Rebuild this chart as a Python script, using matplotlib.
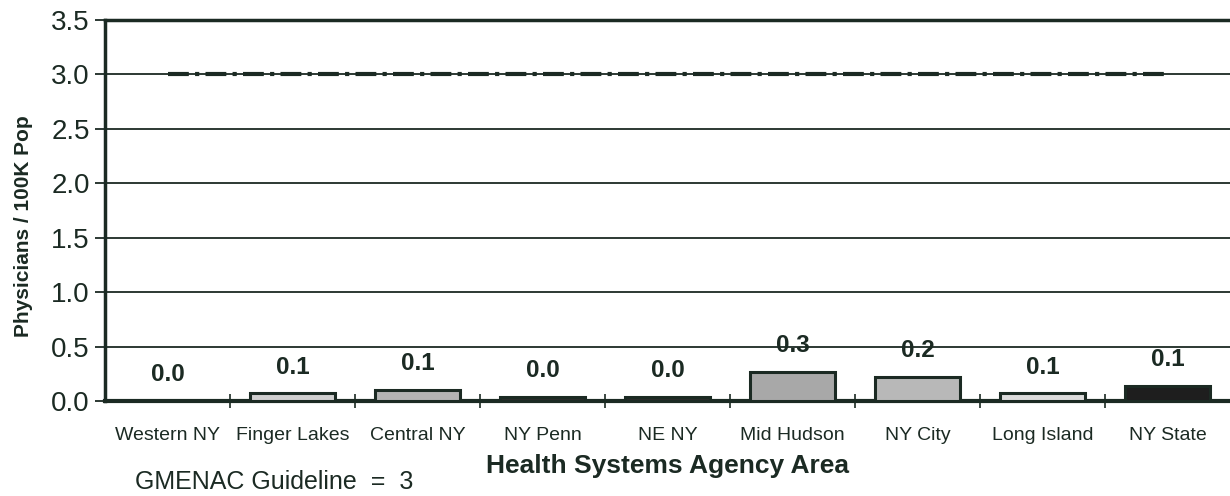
import matplotlib
matplotlib.use("Agg")
import matplotlib.pyplot as plt
import numpy as np

plt.rcParams['font.family'] = ['Liberation Sans', 'DejaVu Sans']

areas = ['Western NY', 'Finger Lakes', 'Central NY', 'NY Penn', 'NE NY',
         'Mid Hudson', 'NY City', 'Long Island', 'NY State']
rates = [0.0, 0.07, 0.10, 0.04, 0.04, 0.27, 0.22, 0.07, 0.14]
guideline = 3.0

ink = '#1b2a23'
fills = ['white', '#cfcfcf', '#b4b4b4', '#2a2a2a', '#2a2a2a',
         '#a8a8a8', '#b8b8b8', '#dcdcdc', '#1e1e1e']

fig = plt.figure(figsize=(12.3, 4.96), dpi=100)
ax = fig.add_axes([0.0854, 0.1915, 0.9146, 0.7682])

x = np.arange(len(areas))
ax.bar(x, rates, width=0.68, color=fills, edgecolor=ink, linewidth=2.2, zorder=3)

for xi, v in zip(x, rates):
    ax.annotate(f'{v:.1f}', (xi, v), xytext=(0, 19), textcoords='offset points',
                ha='center', va='center', fontsize=17.5, fontweight='bold', color=ink)

# guideline across the category centres
ax.plot([x[0], x[-1]], [guideline, guideline], color=ink, linewidth=3,
        linestyle=(0, (5, 1.5, 1, 1.5)), zorder=4)

ax.set_xlim(-0.5, len(areas) - 0.5)
ax.set_ylim(0, 3.5)
ax.set_yticks(np.arange(0, 3.51, 0.5))
ax.set_yticklabels([f'{t:.1f}' for t in np.arange(0, 3.51, 0.5)], fontsize=20, color=ink)
ax.yaxis.grid(True, color=ink, linewidth=1.3)
ax.set_axisbelow(True)
ax.tick_params(axis='y', length=7, width=1.3, color=ink, pad=4)

ax.set_xticks(x)
ax.set_xticklabels(areas, fontsize=14, color=ink)
ax.set_xticks(np.arange(0.5, len(areas) - 0.5, 1), minor=True)
ax.tick_params(axis='x', which='major', length=0, pad=19)
ax.tick_params(axis='x', which='minor', length=10, width=1.2, color=ink, direction='inout')

for side in ['left', 'top', 'bottom']:
    ax.spines[side].set_color(ink)
ax.spines['left'].set_linewidth(2.5)
ax.spines['top'].set_linewidth(2.5)
ax.spines['bottom'].set_linewidth(3)
ax.spines['right'].set_visible(False)

ax.set_ylabel('Physicians / 100K Pop', fontsize=15, fontweight='bold', color=ink)
ax.yaxis.set_label_coords(-0.064, 0.46)
ax.set_xlabel('Health Systems Agency Area', fontsize=19, fontweight='bold', color=ink, labelpad=7)

fig.text(0.11, 0.014, 'GMENAC Guideline  =  3', fontsize=18, color=ink)

fig.savefig('out.png', dpi=100, facecolor='white')
